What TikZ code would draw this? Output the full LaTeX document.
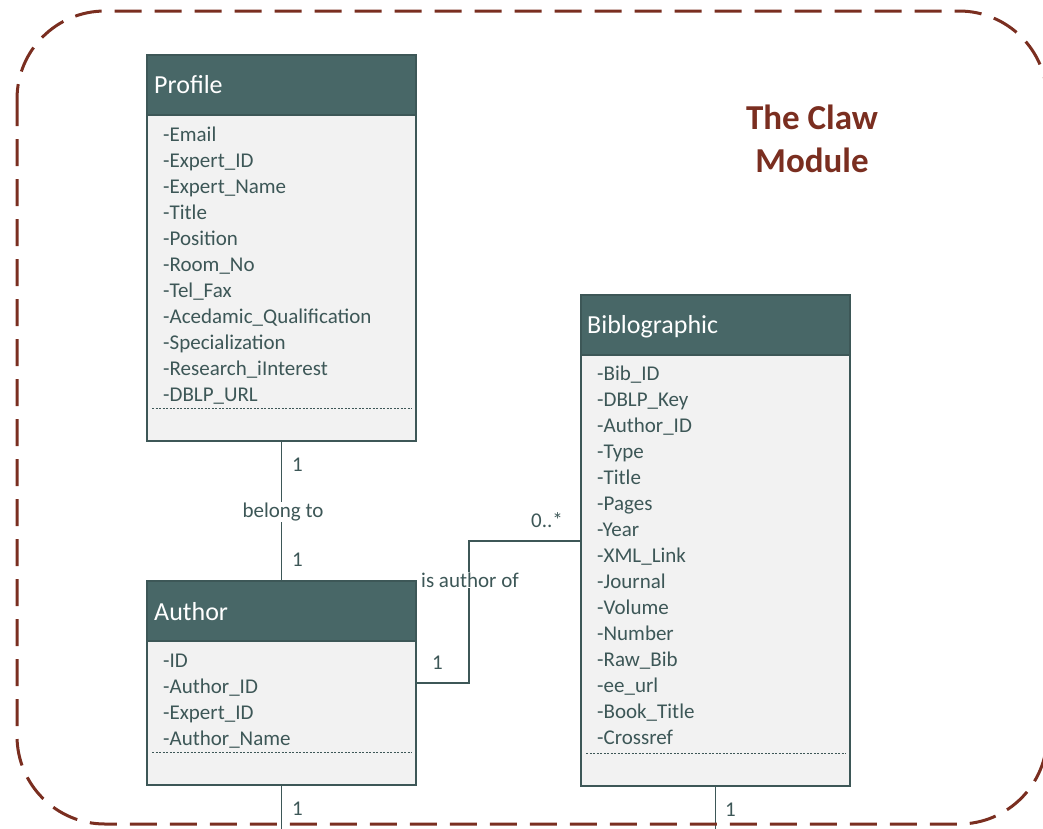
\documentclass[tikz,border=0pt]{standalone}
\usepackage{fontspec}
\setmainfont{Carlito}
\definecolor{hdrfill}{HTML}{486767}
\definecolor{bodyfill}{HTML}{F2F2F2}
\definecolor{ink}{HTML}{3D5757}
\definecolor{claw}{HTML}{7A2E20}

\tikzset{
  hdr/.style={draw=ink, fill=hdrfill, line width=1.3pt, minimum width=269pt,
    minimum height=60pt, anchor=north west, inner sep=0pt, outer sep=0pt},
  cbody/.style={draw=ink, fill=bodyfill, line width=1.3pt, minimum width=269pt,
    anchor=north west, inner sep=0pt, outer sep=0pt},
  ctitle/.style={anchor=base west, text=white, inner sep=0pt,
    font=\fontsize{26}{30}\selectfont},
  attr/.style={anchor=base west, text=ink, inner sep=0pt,
    font=\fontsize{21}{26}\selectfont},
  sep/.style={draw=ink, line width=0.8pt, dash pattern=on 2pt off 1.5pt},
  conn/.style={draw=ink, line width=1.3pt},
  lbl/.style={text=ink, inner sep=1pt, font=\fontsize{21}{26}\selectfont},
  mult/.style={anchor=base west, text=ink, inner sep=0pt,
    font=\fontsize{21}{26}\selectfont},
  frame/.style={draw=claw, line width=3pt, dash pattern=on 27pt off 13pt,
    rounded corners=88pt},
  module/.style={anchor=base, text=claw, inner sep=0pt,
    font=\fontsize{35}{43}\selectfont\bfseries},
}

\begin{document}
\begin{tikzpicture}[x=1pt, y=-1pt]
\useasboundingbox (0,0) rectangle (1043,828);

% ---------- Profile class ----------
\node[hdr] (profileH) at (147,55) {};
\node[cbody, minimum height=326pt] (profile) at (147,115) {};
\node[ctitle] (profileT) at (154,93) {Profile};
\foreach \t [count=\i from 0] in {-Email, -Expert\_ID, -Expert\_Name, -Title,
    -Position, -Room\_No, -Tel\_Fax, -Acedamic\_Qualification, -Specialization,
    -Research\_iInterest, -DBLP\_URL}
  \node[attr] (profile-a\i) at (163,{141+26*\i}) {\t};
\draw[sep] (152,408) -- (412,408);

% ---------- Author class ----------
\node[hdr] (authorH) at (147,581) {};
\node[cbody, minimum height=144pt] (author) at (147,641) {};
\node[ctitle] (authorT) at (154,620) {Author};
\foreach \t [count=\i from 0] in {-ID, -Author\_ID, -Expert\_ID, -Author\_Name}
  \node[attr] (author-a\i) at (163,{667+26*\i}) {\t};
\draw[sep] (152,752) -- (412,752);

% ---------- Biblographic class ----------
\node[hdr] (bibH) at (581,295) {};
\node[cbody, minimum height=431pt] (bib) at (581,355) {};
\node[ctitle] (bibT) at (587,333) {Biblographic};
\foreach \t [count=\i from 0] in {-Bib\_ID, -DBLP\_Key, -Author\_ID, -Type, -Title,
    -Pages, -Year, -XML\_Link, -Journal, -Volume, -Number, -Raw\_Bib, -ee\_url,
    -Book\_Title, -Crossref}
  \node[attr] (bib-a\i) at (597,{380+26.07*\i}) {\t};
\draw[sep] (586,753) -- (846,753);

% ---------- Associations ----------
\draw[conn] (profile.south) -- (authorH.north);
\node[lbl, fill=white] (belong) at (283,512) {belong to};
\node[mult] (m1) at (292,471) {1};
\node[mult] (m2) at (292,566) {1};

\coordinate (aoaStart) at (416,683);
\coordinate (elbow) at (469,541);
\draw[conn] (aoaStart) -| (elbow) -- (elbow -| bib.west);
\node[lbl, fill=white] (isauthor) at (470,580) {is author of};
\node[mult] (m3) at (432,669) {1};
\node[mult] (m4) at (531,527) {0..*};

\coordinate (authorEnd) at (281.5,830);
\draw[conn] (author.south) -- (authorEnd);
\node[mult] (m5) at (292,815) {1};

\coordinate (bibEnd) at (715.5,830);
\draw[conn] (bib.south) -- (bibEnd);
\node[mult] (m6) at (725,816) {1};

% ---------- Module frame and caption ----------
\draw[frame] (17,11) rectangle (1047,824);
\node[module] (clawA) at (812,129) {The Claw};
\node[module] (clawB) at (812,172) {Module};
\end{tikzpicture}
\end{document}
